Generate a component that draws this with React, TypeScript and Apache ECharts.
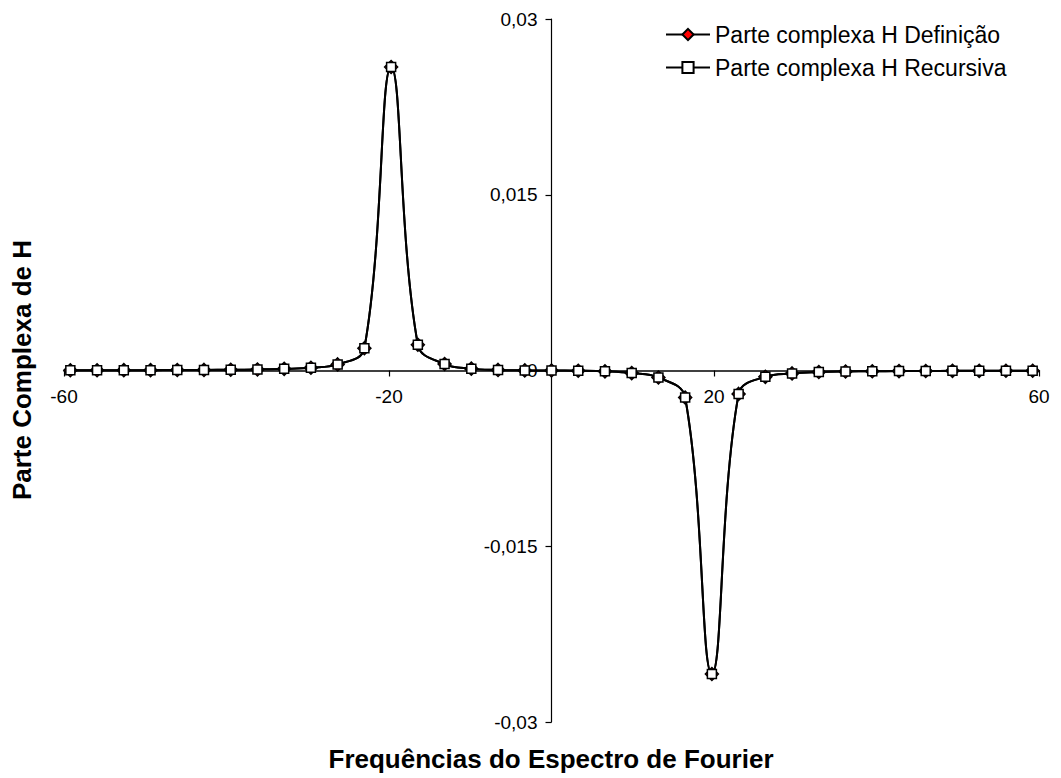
import React, { useEffect, useRef } from "react";
import * as echarts from "echarts";

const freqs = [
  -59.22, -55.93, -52.64, -49.35, -46.06, -42.77, -39.48, -36.19, -32.9, -29.61,
  -26.32, -23.03, -19.74, -16.45, -13.16, -9.87, -6.58, -3.29, 0, 3.29, 6.58,
  9.87, 13.16, 16.45, 19.74, 23.03, 26.32, 29.61, 32.9, 36.19, 39.48, 42.77,
  46.06, 49.35, 52.64, 55.93, 59.22,
];

const hDefinicao = [
  0.00002, 0.00002, 0.00003, 0.00003, 0.00004, 0.00005, 0.00006, 0.00009,
  0.00014, 0.00024, 0.00052, 0.0019, 0.0259, 0.0022, 0.00055, 0.00016, 0.00005,
  0.00001, 0, -0.00002, -0.00007, -0.00022, -0.0006, -0.0023, -0.0259, -0.002,
  -0.00054, -0.00025, -0.00013, -0.00008, -0.00006, -0.00005, -0.00004,
  -0.00003, -0.00003, -0.00002, -0.00002,
];

const hRecursiva = [
  0.00002, 0.00002, 0.00003, 0.00003, 0.00004, 0.00005, 0.00006, 0.00009,
  0.00014, 0.00024, 0.00052, 0.0019, 0.0259, 0.0022, 0.00055, 0.00016, 0.00005,
  0.00001, 0, -0.00002, -0.00007, -0.00022, -0.0006, -0.0023, -0.0259, -0.002,
  -0.00054, -0.00025, -0.00013, -0.00008, -0.00006, -0.00005, -0.00004,
  -0.00003, -0.00003, -0.00002, -0.00002,
];

const xTickValues = [-60, -20, 20, 60];
const seriesNames = ["Parte complexa H Definição", "Parte complexa H Recursiva"];
const xTitle = "Frequências do Espectro de Fourier";
const yTitle = "Parte Complexa de H";

const FONT = "Arial, 'Liberation Sans', sans-serif";

const GRID_LEFT = 64;
const GRID_RIGHT = 22;
const GRID_TOP = 19;
const GRID_BOTTOM = 56;
const W = 1061;
const H = 778;

export default function App() {
  const ref = useRef<HTMLDivElement>(null);

  useEffect(() => {
    if (!ref.current) return;
    const chart = echarts.init(ref.current, null, { renderer: "svg" });
    const fmtY = (v: number) => {
      const r = Math.round(v * 1000) / 1000;
      if (Math.abs(r) < 1e-9) return "0";
      return String(r).replace(".", ",");
    };
    const gridW = W - GRID_LEFT - GRID_RIGHT;
    const gridH = H - GRID_TOP - GRID_BOTTOM;
    chart.setOption({
      animation: false,
      backgroundColor: "#ffffff",
      textStyle: { fontFamily: FONT },
      grid: {
        left: GRID_LEFT,
        right: GRID_RIGHT,
        top: GRID_TOP,
        bottom: GRID_BOTTOM,
        containLabel: false,
        outerBoundsMode: "none",
      },
      legend: {
        orient: "vertical",
        left: 660,
        top: 18,
        itemWidth: 44,
        itemHeight: 14,
        itemGap: 10,
        textStyle: { fontSize: 23, color: "#000", fontFamily: FONT },
        data: seriesNames,
      },
      xAxis: {
        type: "value",
        min: -60,
        max: 60,
        position: "bottom",
        offset: -gridH / 2,
        axisLine: { onZero: false, lineStyle: { color: "#000", width: 1.5 } },
        axisTick: {
          show: true,
          length: 6,
          customValues: xTickValues,
          lineStyle: { color: "#000", width: 1.2 },
        },
        axisLabel: {
          customValues: xTickValues,
          fontSize: 19,
          color: "#000",
          margin: 16,
          fontFamily: FONT,
        },
        splitLine: { show: false },
      },
      yAxis: {
        type: "value",
        min: -0.03,
        max: 0.03,
        interval: 0.015,
        position: "left",
        offset: -gridW / 2,
        axisLine: { show: true, onZero: false, lineStyle: { color: "#000", width: 1.2 } },
        axisTick: { show: true, length: 6, lineStyle: { color: "#000", width: 1.2 } },
        axisLabel: {
          fontSize: 19,
          color: "#000",
          margin: 14,
          formatter: fmtY,
          fontFamily: FONT,
        },
        splitLine: { show: false },
      },
      graphic: [
        {
          type: "text",
          x: 551,
          y: 759,
          style: {
            text: xTitle,
            font: `bold 26px ${FONT}`,
            fill: "#000",
            textAlign: "center",
            textVerticalAlign: "middle",
          },
        },
        {
          type: "text",
          x: 22,
          y: 370,
          rotation: Math.PI / 2,
          style: {
            text: yTitle,
            font: `bold 26px ${FONT}`,
            fill: "#000",
            textAlign: "center",
            textVerticalAlign: "middle",
          },
        },
      ],
      series: [
        {
          name: seriesNames[0],
          type: "line",
          data: freqs.map((f, i) => [f, hDefinicao[i]]),
          smooth: 0.4,
          symbol: "diamond",
          symbolSize: 13,
          showAllSymbol: true,
          lineStyle: { color: "#000", width: 2 },
          itemStyle: { color: "#ff0000", borderColor: "#000", borderWidth: 1.5 },
          z: 2,
        },
        {
          name: seriesNames[1],
          type: "line",
          data: freqs.map((f, i) => [f, hRecursiva[i]]),
          smooth: 0.4,
          symbol: "rect",
          symbolSize: 9,
          showAllSymbol: true,
          lineStyle: { color: "#000", width: 2 },
          itemStyle: { color: "#ffffff", borderColor: "#000", borderWidth: 1.5 },
          z: 3,
        },
      ],
    });
    return () => chart.dispose();
  }, []);

  return (
    <div
      ref={ref}
      style={{ position: "fixed", left: 0, top: 0, width: W, height: H, background: "#fff" }}
    />
  );
}
